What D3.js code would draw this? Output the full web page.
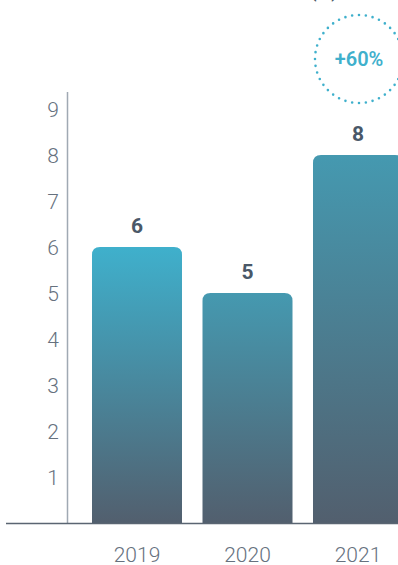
<!DOCTYPE html>
<html>
<head>
<meta charset="utf-8">
<script src="https://cdn.jsdelivr.net/npm/d3@7"></script>
<style>
  html, body { margin: 0; padding: 0; background: #fff; }
  svg { display: block; font-family: Roboto, "Open Sans", sans-serif; }
</style>
</head>
<body>
<svg id="chart" width="398" height="565"></svg>
<script>
// data
var years = ["2019", "2020", "2021"];
var values = [6, 5, 8];
var yTicks = [1, 2, 3, 4, 5, 6, 7, 8, 9];
var growthLabel = "+60%";
var unitLabel = "(%)";

var topColors = ["#3fb0cc", "#4599b0", "#4599b0"];
var bottomColor = "#525f6e";

var svg = d3.select("#chart");
var width = 398, height = 565;

var y = d3.scaleLinear()
    .domain([0, 9])
    .range([523, 109]);

var x = d3.scaleBand()
    .domain(years)
    .range([92, 403])
    .paddingInner(0.1855)
    .paddingOuter(0);

// per-bar gradients
var defs = svg.append("defs");
years.forEach(function(yr, i) {
  var g = defs.append("linearGradient")
      .attr("id", "grad" + i)
      .attr("gradientUnits", "userSpaceOnUse")
      .attr("x1", 0).attr("x2", 0)
      .attr("y1", y(values[i])).attr("y2", y(0));
  g.append("stop").attr("offset", "0%").attr("stop-color", topColors[i]);
  g.append("stop").attr("offset", "100%").attr("stop-color", bottomColor);
});

// unit label, clipped at the top edge like the original
svg.append("text")
    .attr("x", 324)
    .attr("y", -3)
    .attr("text-anchor", "middle")
    .attr("font-size", 20)
    .attr("fill", "#4a5868")
    .text(unitLabel);

// y axis line
svg.append("line")
    .attr("x1", 67.5).attr("x2", 67.5)
    .attr("y1", 92).attr("y2", y(0))
    .attr("stroke", "#a0a9b3")
    .attr("stroke-width", 1.5);

// tick labels
svg.append("g")
  .selectAll("text")
  .data(yTicks)
  .enter().append("text")
    .attr("x", 59)
    .attr("y", function(d) { return y(d); })
    .attr("dy", "0.36em")
    .attr("text-anchor", "end")
    .attr("font-size", 21)
    .attr("font-weight", 300)
    .attr("fill", "#66717e")
    .text(function(d) { return d; });

// bars with rounded top corners
function barPath(x0, w, top, bottom, r) {
  return "M" + x0 + "," + bottom +
    "V" + (top + r) +
    "Q" + x0 + "," + top + " " + (x0 + r) + "," + top +
    "H" + (x0 + w - r) +
    "Q" + (x0 + w) + "," + top + " " + (x0 + w) + "," + (top + r) +
    "V" + bottom + "Z";
}

svg.append("g")
  .selectAll("path")
  .data(values)
  .enter().append("path")
    .attr("d", function(d, i) {
      return barPath(x(years[i]), x.bandwidth(), y(d), y(0), 8);
    })
    .attr("fill", function(d, i) { return "url(#grad" + i + ")"; });

// value labels
svg.append("g")
  .selectAll("text")
  .data(values)
  .enter().append("text")
    .attr("x", function(d, i) { return x(years[i]) + x.bandwidth() / 2; })
    .attr("y", function(d) { return y(d) - 14; })
    .attr("text-anchor", "middle")
    .attr("font-size", 21)
    .attr("font-weight", 700)
    .attr("fill", "#4a5868")
    .text(function(d) { return d; });

// baseline
svg.append("line")
    .attr("x1", 6).attr("x2", width)
    .attr("y1", y(0) + 0.5).attr("y2", y(0) + 0.5)
    .attr("stroke", "#5a6572")
    .attr("stroke-width", 1.5);

// year labels
svg.append("g")
  .selectAll("text")
  .data(years)
  .enter().append("text")
    .attr("x", function(d) { return x(d) + x.bandwidth() / 2; })
    .attr("y", 562)
    .attr("text-anchor", "middle")
    .attr("font-size", 21)
    .attr("font-weight", 300)
    .attr("fill", "#66717e")
    .text(function(d) { return d; });

// growth badge: dotted circle
var badge = svg.append("g").attr("transform", "translate(359,59)");
badge.append("circle")
    .attr("r", 44)
    .attr("fill", "none")
    .attr("stroke", "#3fb0cc")
    .attr("stroke-width", 2.6)
    .attr("stroke-linecap", "round")
    .attr("stroke-dasharray", "0 6.9");
badge.append("text")
    .attr("text-anchor", "middle")
    .attr("dy", "0.36em")
    .attr("font-size", 20)
    .attr("font-weight", 600)
    .attr("fill", "#3fb0cc")
    .text(growthLabel);
</script>
</body>
</html>
